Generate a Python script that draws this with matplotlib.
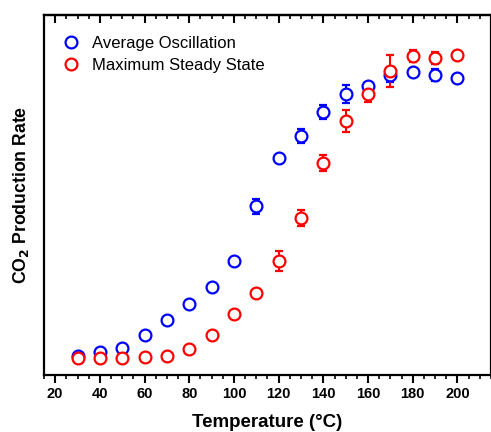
import numpy as np
import matplotlib
matplotlib.use('Agg')
import matplotlib.pyplot as plt
from matplotlib.ticker import MultipleLocator
from matplotlib.lines import Line2D

plt.rcParams['font.family'] = ['Liberation Sans', 'DejaVu Sans']

# ===== Data =====
temperature = [30, 40, 50, 60, 70, 80, 90, 100, 110, 120, 130, 140, 150, 160, 170, 180, 190, 200]

avg_osc = [0.064, 0.076, 0.089, 0.133, 0.183, 0.237, 0.294, 0.381, 0.563, 0.724,
           0.797, 0.877, 0.936, 0.963, 1.000, 1.011, 0.999, 0.991]
avg_osc_err = [0.0, 0.003, 0.010, 0.0, 0.0, 0.007, 0.003, 0.0, 0.025, 0.007,
               0.023, 0.023, 0.030, 0.010, 0.023, 0.003, 0.020, 0.0]

max_ss = [0.058, 0.058, 0.058, 0.059, 0.063, 0.087, 0.134, 0.202, 0.272, 0.380,
          0.523, 0.707, 0.847, 0.937, 1.013, 1.063, 1.056, 1.068]
max_ss_err = [0.0, 0.0, 0.0, 0.007, 0.007, 0.0, 0.007, 0.0, 0.007, 0.033,
              0.027, 0.027, 0.037, 0.027, 0.053, 0.020, 0.020, 0.0]

# ===== Panel =====
fig = plt.figure(figsize=(4.91, 4.32), dpi=100)
ax = fig.add_axes([0.0896, 0.132, 0.9104, 0.833])

common = dict(fmt='o', ms=8.5, mfc='white', mew=1.6, elinewidth=1.5,
              capsize=3, capthick=1.5)
ax.errorbar(temperature, avg_osc, yerr=avg_osc_err, color='#0000ff',
            mec='#0000ff', **common)
ax.errorbar(temperature, max_ss, yerr=max_ss_err, color='#ff0000',
            mec='#ff0000', **common)

ax.set_xlim(15, 215)
ax.set_ylim(0, 1.2)

for s in ax.spines.values():
    s.set_linewidth(1.6)

ax.xaxis.set_major_locator(MultipleLocator(20))
ax.xaxis.set_minor_locator(MultipleLocator(5))
ax.tick_params(axis='x', which='major', direction='out', length=6, width=1.5,
               labelsize=10.5, pad=3)
ax.tick_params(axis='x', which='minor', direction='out', length=3, width=1.2)
ax.set_xticks(range(20, 201, 20))
for lbl in ax.get_xticklabels():
    lbl.set_fontweight('bold')
ax.set_yticks([])

# mirrored ticks on top spine
sec = ax.secondary_xaxis('top')
sec.xaxis.set_major_locator(MultipleLocator(20))
sec.xaxis.set_minor_locator(MultipleLocator(5))
sec.tick_params(axis='x', which='major', direction='in', length=6, width=1.5, labeltop=False)
sec.tick_params(axis='x', which='minor', direction='in', length=3, width=1.2)
sec.spines['top'].set_linewidth(1.6)

ax.set_xlabel('Temperature (°C)', fontsize=13.5, fontweight='bold', labelpad=9)
ax.set_ylabel('CO$_\\mathbf{2}$ Production Rate', fontsize=12.7, fontweight='bold', labelpad=9)

handles = [
    Line2D([], [], ls='none', marker='o', ms=8.5, mfc='white', mec='#0000ff', mew=1.6),
    Line2D([], [], ls='none', marker='o', ms=8.5, mfc='white', mec='#ff0000', mew=1.6),
]
ax.legend(handles, ['Average Oscillation', 'Maximum Steady State'],
          loc='upper left', frameon=False, fontsize=12, handletextpad=0.65,
          bbox_to_anchor=(0.005, 0.984), labelspacing=0.4, handlelength=1.2)

plt.savefig('out.png', dpi=100)
plt.close()
